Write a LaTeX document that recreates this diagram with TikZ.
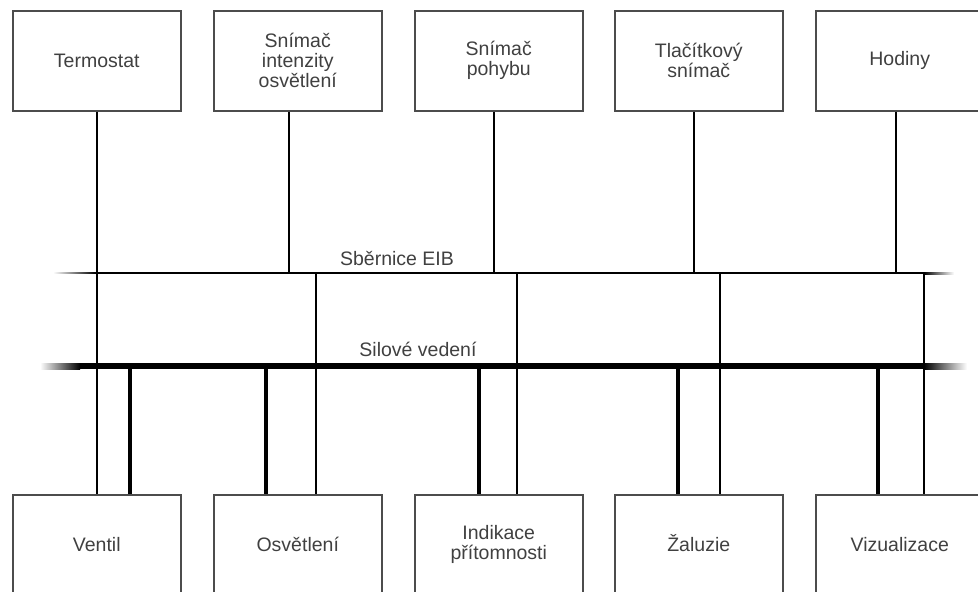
\documentclass[tikz,border=0pt]{standalone}
\usepackage{fontspec}
\setmainfont{Liberation Sans}

\begin{document}
\begin{tikzpicture}[x=1pt,y=-1pt,
	unit/.style={draw=black!70, line width=1.5pt, anchor=north west, minimum width=168pt, minimum height=100pt, align=center, text=black!75, font=\fontsize{19.5}{20}\selectfont},
	buslabel/.style={text=black!75, font=\fontsize{19.5}{20}\selectfont},
	thinline/.style={line width=2pt},
	powerline/.style={line width=4.5pt}]

	\path[use as bounding box, clip] (0,0) rectangle (978,592);

	\node (S1)[unit] at (12,10) {Termostat};
	\node (S2)[unit] at (213,10) {Snímač\\intenzity\\osvětlení};
	\node (S3)[unit] at (414,10) {Snímač\\pohybu};
	\node (S4)[unit] at (614,10) {Tlačítkový\\snímač};
	\node (S5)[unit] at (815,10) {Hodiny};

	\node (A1)[unit] at (12,494) {Ventil};
	\node (A2)[unit] at (213,494) {Osvětlení};
	\node (A3)[unit] at (414,494) {Indikace\\přítomnosti};
	\node (A4)[unit] at (614,494) {\smash{Ž}aluzie};
	\node (A5)[unit] at (815,494) {Vizualizace};

	\node (EIB)[buslabel] at (397,258) {Sběrnice EIB};
	\node (SIL)[buslabel] at (418,349) {Silové vedení};

	% sbernice EIB
	\coordinate (eibL) at (95,273);
	\coordinate (eibR) at (924,273);
	\draw[thinline] (eibL) -- (eibR);
	\shade[left color=white, right color=black] (53,272) rectangle (eibL);
	\shade[left color=black, right color=white] (924,272) rectangle (954,274);

	% silove vedeni
	\coordinate (silL) at (80,366);
	\coordinate (silR) at (924,366);
	\draw[line width=6pt] (silL) -- (silR);
	\shade[left color=white, right color=black] (40,363) rectangle (80,369);
	\shade[left color=black, right color=white] (924,363) rectangle (967,369);

	\coordinate (e1) at (97,273);
	\coordinate (e2) at (289,273);
	\coordinate (e3) at (494,273);
	\coordinate (e4) at (694,273);
	\coordinate (e5) at (896,273);

	\coordinate (f1) at (97,273);
	\coordinate (f2) at (316,273);
	\coordinate (f3) at (517,273);
	\coordinate (f4) at (720,273);
	\coordinate (f5) at (924,273);

	\coordinate (p1) at (130,366);
	\coordinate (p2) at (266,366);
	\coordinate (p3) at (479,366);
	\coordinate (p4) at (678,366);
	\coordinate (p5) at (878,366);

	\draw[thinline] (e1 |- S1.south) -- (e1);
	\draw[thinline] (e2 |- S2.south) -- (e2);
	\draw[thinline] (e3 |- S3.south) -- (e3);
	\draw[thinline] (e4 |- S4.south) -- (e4);
	\draw[thinline] (e5 |- S5.south) -- (e5);

	\draw[thinline] (f1) -- (f1 |- A1.north);
	\draw[thinline] (f2) -- (f2 |- A2.north);
	\draw[thinline] (f3) -- (f3 |- A3.north);
	\draw[thinline] (f4) -- (f4 |- A4.north);
	\draw[thinline] (f5) -- (f5 |- A5.north);

	\draw[powerline] (p1) -- (p1 |- A1.north);
	\draw[powerline] (p2) -- (p2 |- A2.north);
	\draw[powerline] (p3) -- (p3 |- A3.north);
	\draw[powerline] (p4) -- (p4 |- A4.north);
	\draw[powerline] (p5) -- (p5 |- A5.north);

\end{tikzpicture}
\end{document}
